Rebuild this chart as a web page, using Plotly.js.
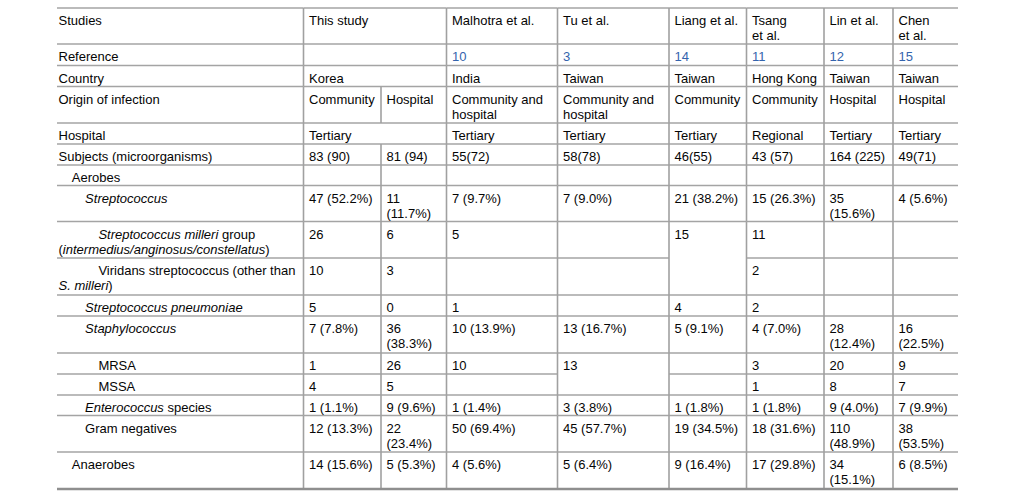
<!DOCTYPE html>
<html>
<head>
<meta charset="utf-8">
<script src="https://cdn.plot.ly/plotly-3.0.1.min.js"></script>
<style>html,body{margin:0;padding:0;background:#fff;}#chart{width:1015px;height:493px;}</style>
</head>
<body>
<div id="chart"></div>
<script>
// ---------- table content (one array per row) ----------
const tableTitle = 'Table 2. Comparison of microbiology';
const headerRow    = ['Studies', 'This study', '', 'Malhotra et al.', 'Tu et al.', 'Liang et al.', 'Tsang<br>et al.', 'Lin et al.', 'Chen<br>et al.'];
const referenceRow = ['Reference', '', '', '10', '3', '14', '11', '12', '15'];
const countryRow   = ['Country', 'Korea', '', 'India', 'Taiwan', 'Taiwan', 'Hong Kong', 'Taiwan', 'Taiwan'];
const originRow    = ['Origin of infection', 'Community', 'Hospital', 'Community and<br>hospital', 'Community and<br>hospital', 'Community', 'Community', 'Hospital', 'Hospital'];
const hospitalRow  = ['Hospital', 'Tertiary', '', 'Tertiary', 'Tertiary', 'Tertiary', 'Regional', 'Tertiary', 'Tertiary'];
const subjectsRow  = ['Subjects (microorganisms)', '83 (90)', '81 (94)', '55(72)', '58(78)', '46(55)', '43 (57)', '164 (225)', '49(71)'];
const aerobesRow   = ['Aerobes', '', '', '', '', '', '', '', ''];
const streptoRow   = ['<i>Streptococcus</i>', '47 (52.2%)', '11<br>(11.7%)', '7 (9.7%)', '7 (9.0%)', '21 (38.2%)', '15 (26.3%)', '35<br>(15.6%)', '4 (5.6%)'];
const milleriRow   = ['<i>Streptococcus milleri</i> group<br>(<i>intermedius/anginosus/constellatus</i>)', '26', '6', '5', '', '15', '11', '', ''];
const viridansRow  = ['Viridans streptococcus (other than<br><i>S. milleri</i>)', '10', '3', '', '', '', '2', '', ''];
const pneumoRow    = ['<i>Streptococcus pneumoniae</i>', '5', '0', '1', '', '4', '2', '', ''];
const staphRow     = ['<i>Staphylococcus</i>', '7 (7.8%)', '36<br>(38.3%)', '10 (13.9%)', '13 (16.7%)', '5 (9.1%)', '4 (7.0%)', '28<br>(12.4%)', '16<br>(22.5%)'];
const mrsaRow      = ['MRSA', '1', '26', '10', '13', '', '3', '20', '9'];
const mssaRow      = ['MSSA', '4', '5', '', '', '', '1', '8', '7'];
const enteroRow    = ['<i>Enterococcus</i> species', '1 (1.1%)', '9 (9.6%)', '1 (1.4%)', '3 (3.8%)', '1 (1.8%)', '1 (1.8%)', '9 (4.0%)', '7 (9.9%)'];
const gramNegRow   = ['Gram negatives', '12 (13.3%)', '22<br>(23.4%)', '50 (69.4%)', '45 (57.7%)', '19 (34.5%)', '18 (31.6%)', '110<br>(48.9%)', '38<br>(53.5%)'];
const anaeroRow    = ['Anaerobes', '14 (15.6%)', '5 (5.3%)', '4 (5.6%)', '5 (6.4%)', '9 (16.4%)', '17 (29.8%)', '34<br>(15.1%)', '6 (8.5%)'];

const rows = [headerRow, referenceRow, countryRow, originRow, hospitalRow, subjectsRow, aerobesRow,
  streptoRow, milleriRow, viridansRow, pneumoRow, staphRow, mrsaRow, mssaRow, enteroRow, gramNegRow, anaeroRow];

// ---------- layout geometry (pixel axes) ----------
const colEdges = [57, 303.5, 381, 446.5, 557.5, 669, 746.5, 824, 893, 958];
const rowEdges = [8, 44, 65.5, 86.5, 123, 144, 165, 185.5, 221.5, 258, 295, 316, 353, 374, 395, 415.5, 452, 489];
const indentLevel = [0, 0, 0, 0, 0, 0, 1, 2, 3, 3, 2, 2, 3, 3, 2, 2, 1];
const mergedStudyRows = [0, 1, 2, 4];          // "This study" spans both sub-columns
const skipHLine = [[9, 5], [13, 4]];           // [edge index, column] with no rule (vertical merge)
const PAD = 5.5, INDENT = 13.3, LINE_H = 15, BASE_OFF = 14;

const tx = [], ty = [], tt = [], tc = [];
rows.forEach((row, r) => {
  row.forEach((cell, c) => {
    if (!cell) return;
    const lines = cell.split('<br>');
    lines.forEach((ln, k) => {
      let x;
      if (c === 0) x = colEdges[0] + 1.5 + (k === 0 ? indentLevel[r] * INDENT : 0);
      else x = colEdges[c] + PAD;
      tx.push(x);
      ty.push(rowEdges[r] + BASE_OFF + k * LINE_H);
      tt.push(ln);
      tc.push(r === 1 && c >= 3 ? '#3464ad' : '#050505');
    });
  });
});

// horizontal rules
const hx = [], hy = [];
for (let e = 0; e < rowEdges.length - 1; e++) {
  for (let c = 0; c < colEdges.length - 1; c++) {
    if (skipHLine.some(s => s[0] === e && s[1] === c)) continue;
    hx.push(colEdges[c], colEdges[c + 1], null);
    hy.push(rowEdges[e], rowEdges[e], null);
  }
}
// vertical rules
const vx = [], vy = [];
for (let k = 1; k < colEdges.length - 1; k++) {
  for (let r = 0; r < rows.length; r++) {
    if (k === 2 && mergedStudyRows.includes(r)) continue;
    vx.push(colEdges[k], colEdges[k], null);
    vy.push(rowEdges[r], rowEdges[r + 1], null);
  }
}
const last = rowEdges[rowEdges.length - 1];

const traces = [
  {type: 'scatter', mode: 'lines', x: hx, y: hy, line: {color: '#a4a4a4', width: 1.6}, hoverinfo: 'skip', connectgaps: false, cliponaxis: false},
  {type: 'scatter', mode: 'lines', x: vx, y: vy, line: {color: '#a0a0a0', width: 1.6}, hoverinfo: 'skip', connectgaps: false, cliponaxis: false},
  {type: 'scatter', mode: 'lines', x: [colEdges[0], colEdges[colEdges.length - 1]], y: [last, last], line: {color: '#8f8f8f', width: 2.4}, hoverinfo: 'skip', cliponaxis: false},
  {type: 'scatter', mode: 'text', x: tx, y: ty, text: tt, textposition: 'middle right',
   textfont: {family: 'Liberation Sans, Arial, sans-serif', size: 13, color: tc}, hoverinfo: 'skip', cliponaxis: false},
  {type: 'scatter', mode: 'text', x: [colEdges[0] + 1], y: [-2.5], text: ['<b>' + tableTitle + '</b>'], textposition: 'middle right',
   textfont: {family: 'Liberation Sans, Arial, sans-serif', size: 14, color: '#111'}, hoverinfo: 'skip', cliponaxis: false}
];

const layout = {
  width: 1015, height: 493,
  margin: {l: 0, r: 0, t: 0, b: 0, pad: 0},
  paper_bgcolor: '#ffffff', plot_bgcolor: '#ffffff',
  showlegend: false,
  xaxis: {range: [0, 1015], visible: false, fixedrange: true},
  yaxis: {range: [493, 0], visible: false, fixedrange: true}
};

Plotly.newPlot('chart', traces, layout, {displayModeBar: false, staticPlot: true});
</script>
</body>
</html>
